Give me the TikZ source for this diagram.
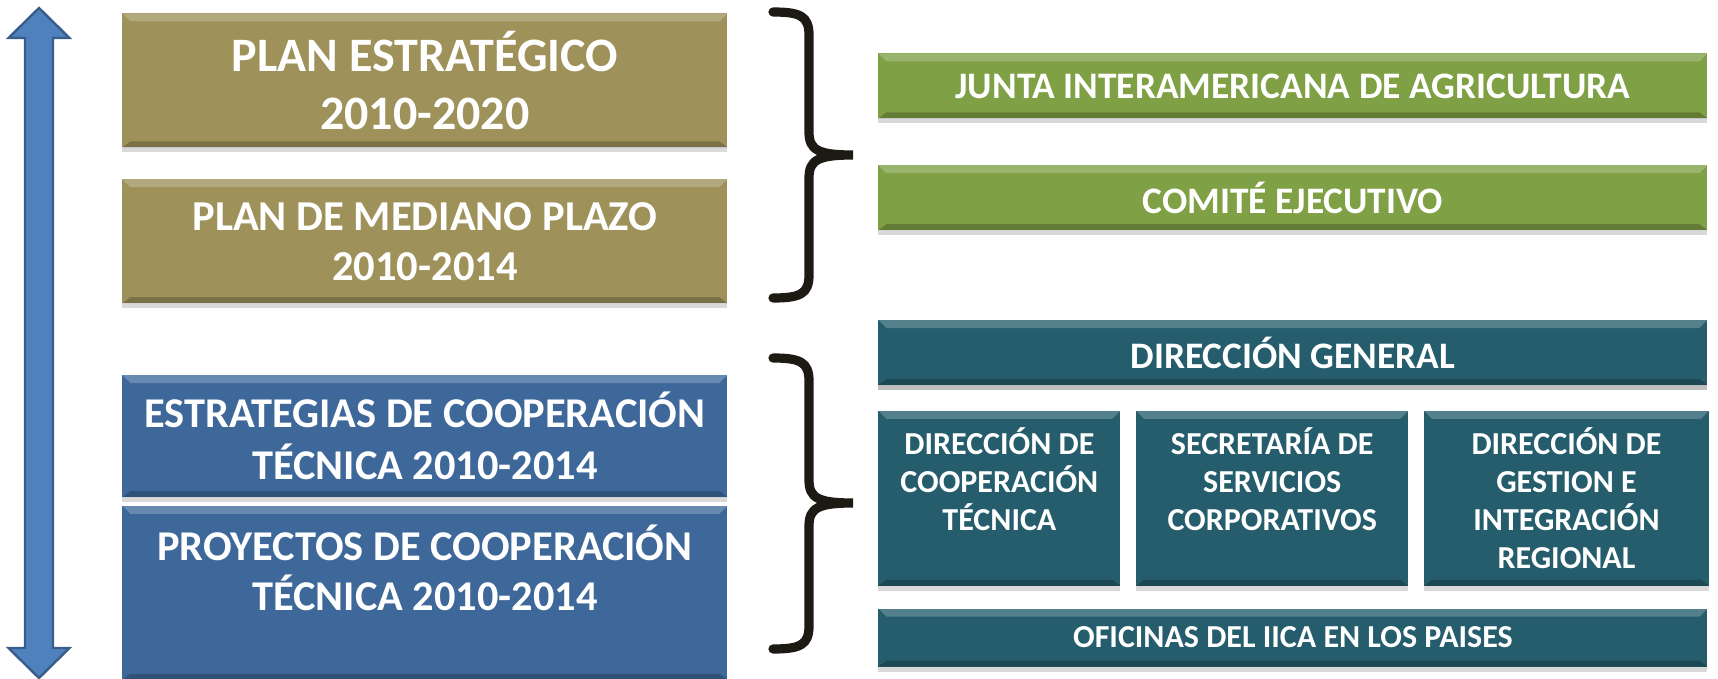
\documentclass[tikz,border=0pt]{standalone}
\usepackage{fontspec}
\setmainfont{Carlito}
\usetikzlibrary{positioning,shadows}

\definecolor{olivebox}{RGB}{158,146,90}
\definecolor{greenbox}{RGB}{127,160,68}
\definecolor{tealbox}{RGB}{37,93,108}
\definecolor{bluebox}{RGB}{62,104,154}
\definecolor{arrowblue}{RGB}{79,129,189}
\definecolor{arrowline}{RGB}{56,93,138}
\definecolor{bracecol}{RGB}{28,26,18}

\begin{document}
\begin{tikzpicture}[x=0.5pt, y=-0.5pt,
    box/.style={fill=#1, text=white, align=center, inner sep=2pt,
      drop shadow={shadow xshift=0pt, shadow yshift=-2.5pt, opacity=0.3},
      path picture={
        \fill[white, opacity=0.22] (path picture bounding box.north west) -- (path picture bounding box.north east)
          -- ([shift={(-4pt,-4pt)}]path picture bounding box.north east) -- ([shift={(4pt,-4pt)}]path picture bounding box.north west) -- cycle;
        \fill[black, opacity=0.22] (path picture bounding box.south west) -- (path picture bounding box.south east)
          -- ([shift={(-4pt,3pt)}]path picture bounding box.south east) -- ([shift={(4pt,3pt)}]path picture bounding box.south west) -- cycle;
      }},
    plan/.style={box=olivebox, minimum width=302.5pt},
    coop/.style={box=bluebox, minimum width=302.5pt, font=\bfseries\fontsize{21.2}{26}\selectfont},
    organ/.style={box=greenbox, minimum width=414.5pt, minimum height=32.5pt, font=\bfseries\fontsize{18.7}{21}\selectfont},
    office/.style={box=tealbox, minimum height=87.5pt, font=\bfseries\fontsize{16}{19}\selectfont},
    timeline/.style={fill=arrowblue, draw=arrowline, line width=1.2pt, line join=miter},
    bracket/.style={draw=bracecol, line width=4.6pt, line cap=round}
    ]
    \useasboundingbox (0,0) rectangle (1718,679);

    % planning levels
    \node[plan, minimum height=67pt, font=\bfseries\fontsize{24}{29}\selectfont, anchor=north west] (plan_estrategico) at (122,13) {PLAN ESTRATÉGICO\\2010-2020};
    \node[plan, minimum height=62pt, font=\bfseries\fontsize{21.3}{25}\selectfont, below=15.5pt of plan_estrategico] (plan_mediano) {PLAN DE MEDIANO PLAZO\\2010-2014};
    \node[coop, minimum height=61pt, below=35.5pt of plan_mediano] (estrategias) {ESTRATEGIAS DE COOPERACIÓN\\TÉCNICA 2010-2014};
    \node[coop, minimum height=87pt, font=\bfseries\fontsize{21.2}{25}\selectfont, below=4pt of estrategias] (proyectos) {PROYECTOS DE COOPERACIÓN\\TÉCNICA 2010-2014\\};

    % time axis
    \draw[timeline] (39,8) -- (69.5,38) -- (53,38) -- (53,648) -- (69.5,648) -- (39,678)
      -- (8.5,648) -- (25,648) -- (25,38) -- (8.5,38) -- cycle;

    % governing bodies
    \node[organ, anchor=north west] (junta) at (878,53) {JUNTA INTERAMERICANA DE AGRICULTURA};
    \node[organ, below=23pt of junta] (comite) {COMITÉ EJECUTIVO};

    % management
    \node[organ, box=tealbox, below=44.5pt of comite] (direccion_general) {DIRECCIÓN GENERAL};
    \node[office, minimum width=121pt, below right=12.5pt and 0pt of direccion_general.south west] (dir_cooperacion) {DIRECCIÓN DE\\COOPERACIÓN\\TÉCNICA\\};
    \node[office, minimum width=136pt, right=7.5pt of dir_cooperacion] (secretaria) {SECRETARÍA DE\\SERVICIOS\\CORPORATIVOS\\};
    \node[office, minimum width=142.5pt, right=7.5pt of secretaria] (dir_gestion) {DIRECCIÓN DE\\GESTION E\\INTEGRACIÓN\\REGIONAL};
    \node[office, minimum width=414.5pt, minimum height=29pt, below right=11pt and 0pt of dir_cooperacion.south west] (oficinas) {OFICINAS DEL IICA EN LOS PAISES};

    % braces
    \draw[bracket] (773,12) .. controls (800,12) and (809,16) .. (809,35) -- (809,132)
      .. controls (809,150) and (818,155) .. (853,155) .. controls (818,155) and (809,160) .. (809,178)
      -- (809,275) .. controls (809,294) and (800,298) .. (773,298);
    \draw[bracket] (773,358) .. controls (800,358) and (809,362) .. (809,381) -- (809,480)
      .. controls (809,498) and (818,503) .. (853,503) .. controls (818,503) and (809,508) .. (809,526)
      -- (809,626) .. controls (809,645) and (800,649) .. (773,649);
\end{tikzpicture}
\end{document}
